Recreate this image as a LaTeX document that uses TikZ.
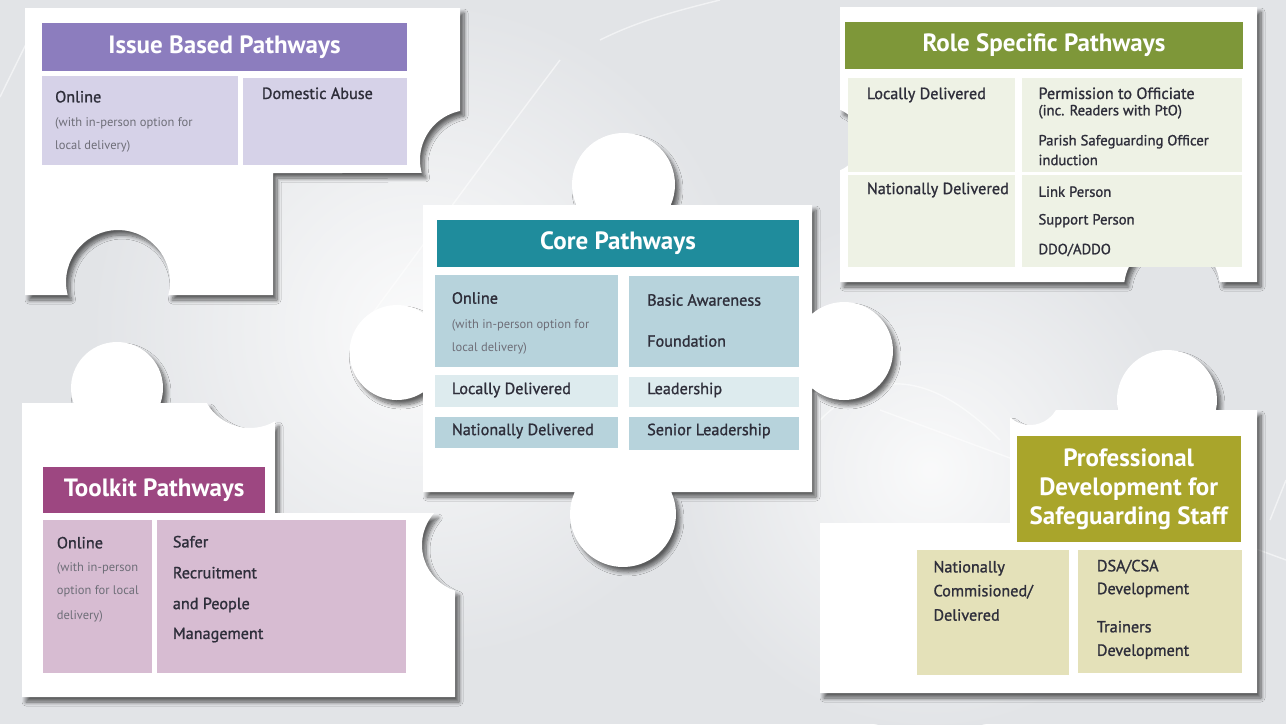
\documentclass[tikz,border=0pt]{standalone}
\usepackage{fontspec}
\setmainfont{PT Sans}
\newfontfamily\pwMedFam{PT Sans}[FakeBold=1.2]
\usetikzlibrary{shadows.blur}
\definecolor{bgc}{HTML}{E2E4E7}
\definecolor{ibH}{HTML}{8C7DBE}
\definecolor{ibC}{HTML}{D6D2E8}
\definecolor{rsH}{HTML}{7E9739}
\definecolor{rsC}{HTML}{EEF2E5}
\definecolor{cpH}{HTML}{1F8C9C}
\definecolor{cpC}{HTML}{B7D3DC}
\definecolor{cpL}{HTML}{DDEBEE}
\definecolor{tkH}{HTML}{9D4781}
\definecolor{tkC}{HTML}{D7BCD2}
\definecolor{pdH}{HTML}{A9A52B}
\definecolor{pdC}{HTML}{E4E1B9}
\definecolor{txt}{HTML}{2E2E3A}
\definecolor{txs}{HTML}{6E6E78}
\newcommand\pwHdr{\fontsize{25}{29}\selectfont\bfseries}
\newcommand\pwLbl{\pwMedFam\fontsize{16.2}{19}\selectfont}
\newcommand\pwMid{\pwMedFam\fontsize{14.7}{17}\selectfont}
\newcommand\pwSub{\fontsize{12.5}{14}\selectfont}
\tikzset{
  piece/.style={fill=white, blur shadow={shadow xshift=4pt, shadow yshift=-5pt, shadow opacity=60, shadow blur steps=8, shadow blur radius=4pt}},
  hdr/.style={text=white, font=\pwHdr, inner sep=0pt, align=center},
  lbl/.style={anchor=west, inner sep=0pt, font=\pwLbl, text=txt},
  mid/.style={anchor=west, inner sep=0pt, font=\pwMid, text=txt},
  sbt/.style={anchor=west, inner sep=0pt, font=\pwSub, text=txs},
  swoosh/.style={white, opacity=0.55, line width=1.4pt}
}
\begin{document}
\begin{tikzpicture}[x=1pt,y=-1pt]
\useasboundingbox (0,0) rectangle (1286,724);
% background
\fill[bgc] (0,0) rectangle (1286,724);
\shade[inner color=white!85!bgc, outer color=bgc] (420,330) circle (330);
\shade[inner color=white!80!bgc, outer color=bgc] (930,470) circle (260);
\draw[swoosh] (0,97) -- (28,40);
\draw[swoosh] (360,330) .. controls (420,250) and (470,180) .. (560,60);
\draw[swoosh] (600,40) .. controls (640,20) and (680,10) .. (720,0);
\draw[swoosh] (820,420) .. controls (880,360) and (940,380) .. (1000,440);
\draw[swoosh] (880,410) -- (1286,560);
\draw[swoosh] (1270,520) -- (1286,480);

% ---------- Issue Based piece ----------
\path[piece] (25,8) -- (460,8) -- (460,111)
  arc[start angle=258.46, end angle=164.93, radius=50] -- (273,173) -- (273,295)
  -- (168.35,295) arc[start angle=14.48, end angle=-194.48, radius=52] -- (25,295) -- cycle;
\node[hdr, fill=ibH, minimum width=365.6pt, minimum height=47.7pt] (ibhead) at (224.5,47.2) {Issue Based Pathways};
\fill[ibC] (41.7,76) rectangle (238.3,165);
\fill[ibC] (243.3,77.7) rectangle (407.3,165);
\node[lbl] (ib1) at (55,96.7) {Online};
\node[sbt] (ib2) at (55,123.3) {(with in-person option for};
\node[sbt] (ib3) at (55,146.7) {local delivery)};
\node[lbl] (ib4) at (261.7,93.3) {Domestic Abuse};

% ---------- Role Specific piece ----------
\path[piece] (840,7) -- (1257,7) -- (1257,282) -- (1219.62,282)
  arc[start angle=-7.18, end angle=-172.82, radius=48] -- (840,282) -- (840,170.33)
  arc[start angle=66.8, end angle=-66.8, radius=33] -- cycle;
\node[hdr, fill=rsH, minimum width=397.7pt, minimum height=47.6pt] (rshead) at (1043.9,45.5) {Role Specific Pathways};
\fill[rsC] (848.3,77.7) rectangle (1015,171.7);
\fill[rsC] (1022.3,77.7) rectangle (1241.7,171.7);
\fill[rsC] (848.3,175) rectangle (1015,266.7);
\fill[rsC] (1022.3,175) rectangle (1241.7,266.7);
\node[lbl] (rs1) at (866.7,95) {Locally Delivered};
\node[lbl] (rs2) at (1038.3,93.3) {Permission to Officiate};
\node[mid] (rs3) at (1038.3,111.7) {(inc. Readers with PtO)};
\node[mid] (rs4) at (1038.3,141.7) {Parish Safeguarding Officer};
\node[mid] (rs5) at (1038.3,160) {induction};
\node[lbl] (rs6) at (866.7,190) {Nationally Delivered};
\node[mid] (rs7) at (1038.3,191.7) {Link Person};
\node[mid] (rs8) at (1038.3,220.7) {Support Person};
\node[mid] (rs9) at (1038.3,250) {DDO/ADDO};

% ---------- Core piece ----------
\path[piece] (423,205) -- (576.26,205)
  arc[start angle=156.54, end angle=383.46, radius=51.5] -- (812,205) -- (812,313.89)
  arc[start angle=229.23, end angle=490.77, radius=49] -- (812,492) -- (671.22,492)
  arc[start angle=-24.52, end angle=204.52, radius=53] -- (423,492) -- (423,392.25)
  arc[start angle=56.81, end angle=303.19, radius=47.5] -- cycle;
\node[hdr, fill=cpH, minimum width=362pt, minimum height=47pt] (cphead) at (618,243.5) {Core Pathways};
\fill[cpC] (435,275) rectangle (618,366.7);
\fill[cpC] (629,276) rectangle (799,366.7);
\fill[cpL] (435,375) rectangle (618,406.7);
\fill[cpL] (629,376.7) rectangle (799,406.7);
\fill[cpC] (435,416.7) rectangle (618,448);
\fill[cpC] (629,416.7) rectangle (799,450);
\node[lbl] (cp1) at (451.7,298) {Online};
\node[sbt] (cp2) at (451.7,325) {(with in-person option for};
\node[sbt] (cp3) at (451.7,348.5) {local delivery)};
\node[lbl] (cp4) at (647,300) {Basic Awareness};
\node[lbl] (cp5) at (647,341) {Foundation};
\node[lbl] (cp6) at (451.7,390) {Locally Delivered};
\node[lbl] (cp7) at (647,390) {Leadership};
\node[lbl] (cp8) at (451.7,431) {Nationally Delivered};
\node[lbl] (cp9) at (647,431) {Senior Leadership};

% ---------- Toolkit piece ----------
\path[piece] (22,403) -- (73.51,403)
  arc[start angle=160.97, end angle=379.03, radius=46] -- (206.70,403)
  arc[start angle=150, end angle=60, radius=50] -- (275,513) -- (434.22,513)
  arc[start angle=221.81, end angle=108.21, radius=48] -- (455,697) -- (22,697) -- cycle;
\node[hdr, fill=tkH, minimum width=221.7pt, minimum height=46.6pt] (tkhead) at (154.2,490) {Toolkit Pathways};
\fill[tkC] (43.3,520) rectangle (151.7,673.3);
\fill[tkC] (156.7,520) rectangle (406,673.3);
\node[lbl] (tk1) at (56.7,542.7) {Online};
\node[sbt] (tk2) at (56.7,568.3) {(with in-person};
\node[sbt] (tk3) at (56.7,591.7) {option for local};
\node[sbt] (tk4) at (56.7,616.7) {delivery)};
\node[lbl] (tk5) at (172.7,541.7) {Safer};
\node[lbl] (tk6) at (172.7,572.7) {Recruitment};
\node[lbl] (tk7) at (172.7,605) {and People};
\node[lbl] (tk8) at (172.7,635) {Management};

% ---------- Professional Development piece ----------
\path[piece] (1010,417.36)
  arc[start angle=131.81, end angle=30, radius=30] -- (1118.01,410)
  arc[start angle=168.46, end angle=371.54, radius=50] -- (1257,410) -- (1257,693)
  -- (820,693) -- (820,523) -- (1010,523) -- cycle;
\node[hdr, fill=pdH, minimum width=224pt, minimum height=106.6pt] (pdhead) at (1128.7,489) {Professional\\Development for\\Safeguarding Staff};
\fill[pdC] (916.7,550) rectangle (1069.3,675);
\fill[pdC] (1078.3,550) rectangle (1241.7,673.3);
\node[lbl] (pd1) at (933.3,568.3) {Nationally};
\node[lbl] (pd2) at (933.3,591.7) {Commisioned/};
\node[lbl] (pd3) at (933.3,615) {Delivered};
\node[lbl] (pd4) at (1096.7,566.7) {DSA/CSA};
\node[lbl] (pd5) at (1096.7,590) {Development};
\node[lbl] (pd6) at (1096.7,626.7) {Trainers};
\node[lbl] (pd7) at (1096.7,651.7) {Development};
\end{tikzpicture}
\end{document}
